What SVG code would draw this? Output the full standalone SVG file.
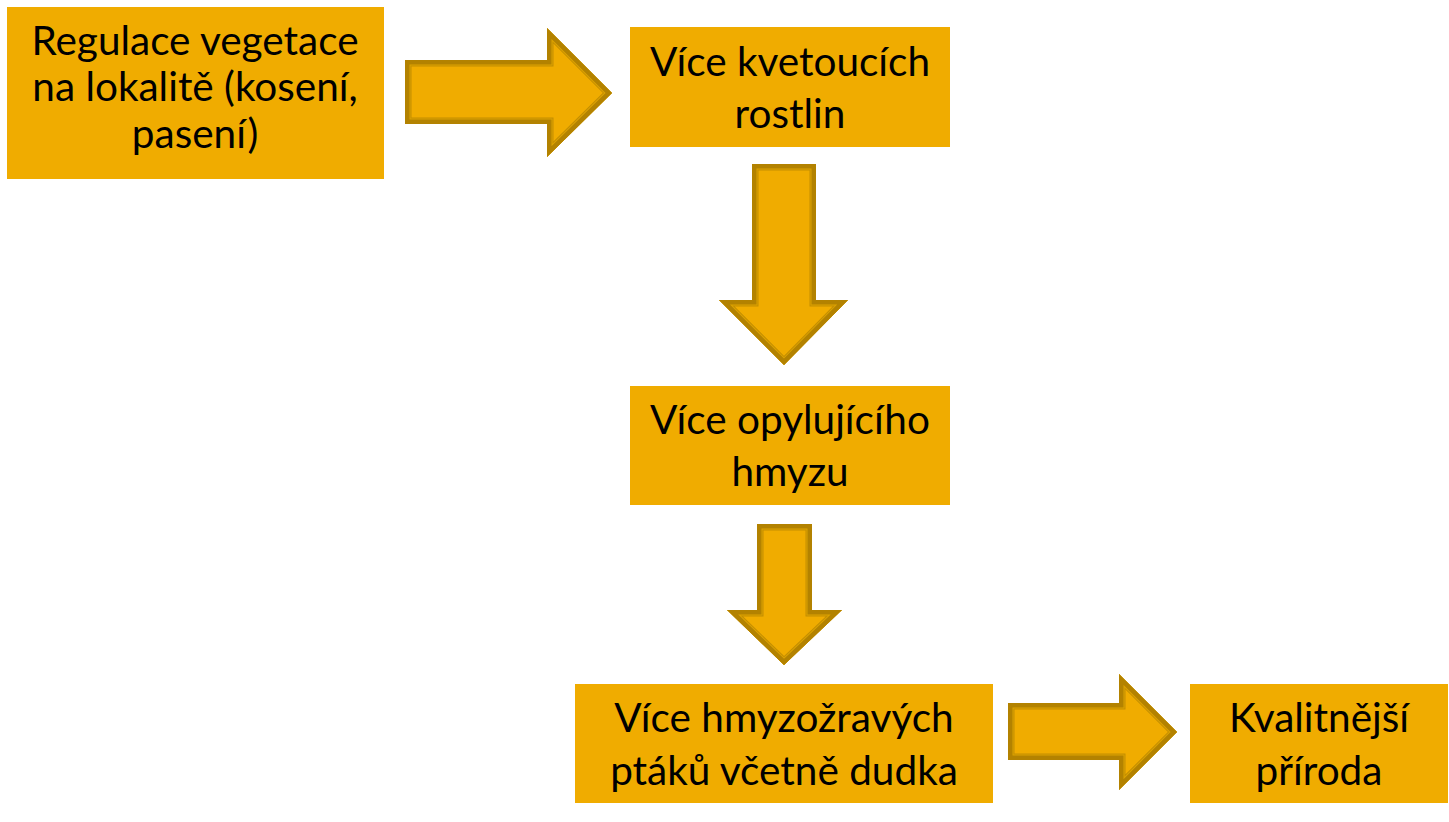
<svg xmlns="http://www.w3.org/2000/svg" xmlns:xlink="http://www.w3.org/1999/xlink" width="1449" height="822" viewBox="0 0 1449 822">
<style>
.box{fill:#F0AC00}
.t{font-family:Lato,"Open Sans",sans-serif;font-size:40.5px;fill:#000;text-anchor:middle}
.af{fill:#F0AC00}
.s1{fill:none;stroke:#C48E00;stroke-width:13}
.s2{fill:none;stroke:#DCA200;stroke-width:11}
.s3{fill:none;stroke:#B38200;stroke-width:9}
</style>
<defs>
<polygon id="a1" points="405,60 547,60 547,28 612,93 547,157 547,124 405,124"/>
<polygon id="a2" points="752,164 816,164 816,300 848,300 784,365 719,300 752,300"/>
<polygon id="a3" points="757,524 812,524 812,610 842,610 784,665 727,610 757,610"/>
<polygon id="a4" points="1008,703 1119,703 1119,674 1177,732 1119,790 1119,760 1008,760"/>
<clipPath id="c1"><use xlink:href="#a1"/></clipPath>
<clipPath id="c2"><use xlink:href="#a2"/></clipPath>
<clipPath id="c3"><use xlink:href="#a3"/></clipPath>
<clipPath id="c4"><use xlink:href="#a4"/></clipPath>
</defs>
<g id="connectors">
<g clip-path="url(#c1)"><use xlink:href="#a1" class="af"/><use xlink:href="#a1" class="s1"/><use xlink:href="#a1" class="s2"/><use xlink:href="#a1" class="s3"/></g>
<g clip-path="url(#c2)"><use xlink:href="#a2" class="af"/><use xlink:href="#a2" class="s1"/><use xlink:href="#a2" class="s2"/><use xlink:href="#a2" class="s3"/></g>
<g clip-path="url(#c3)"><use xlink:href="#a3" class="af"/><use xlink:href="#a3" class="s1"/><use xlink:href="#a3" class="s2"/><use xlink:href="#a3" class="s3"/></g>
<g clip-path="url(#c4)"><use xlink:href="#a4" class="af"/><use xlink:href="#a4" class="s1"/><use xlink:href="#a4" class="s2"/><use xlink:href="#a4" class="s3"/></g>
</g>
<g id="n1"><rect class="box" x="7" y="7" width="377" height="172"/>
<text class="t" x="195" y="55">Regulace vegetace</text>
<text class="t" x="195" y="101">na lokalitě (kosení,</text>
<text class="t" x="195" y="148">pasení)</text></g>
<g id="n2"><rect class="box" x="630" y="27" width="320" height="120"/>
<text class="t" x="790" y="76">Více kvetoucích</text>
<text class="t" x="790" y="128">rostlin</text></g>
<g id="n3"><rect class="box" x="630" y="386" width="320" height="119"/>
<text class="t" x="790" y="434">Více opylujícího</text>
<text class="t" x="790" y="486">hmyzu</text></g>
<g id="n4"><rect class="box" x="575" y="684" width="418" height="119"/>
<text class="t" x="784" y="732">Více hmyzožravých</text>
<text class="t" x="784" y="785">ptáků včetně dudka</text></g>
<g id="n5"><rect class="box" x="1190" y="684" width="258" height="119"/>
<text class="t" x="1319" y="732">Kvalitnější</text>
<text class="t" x="1319" y="785">příroda</text></g>
</svg>
